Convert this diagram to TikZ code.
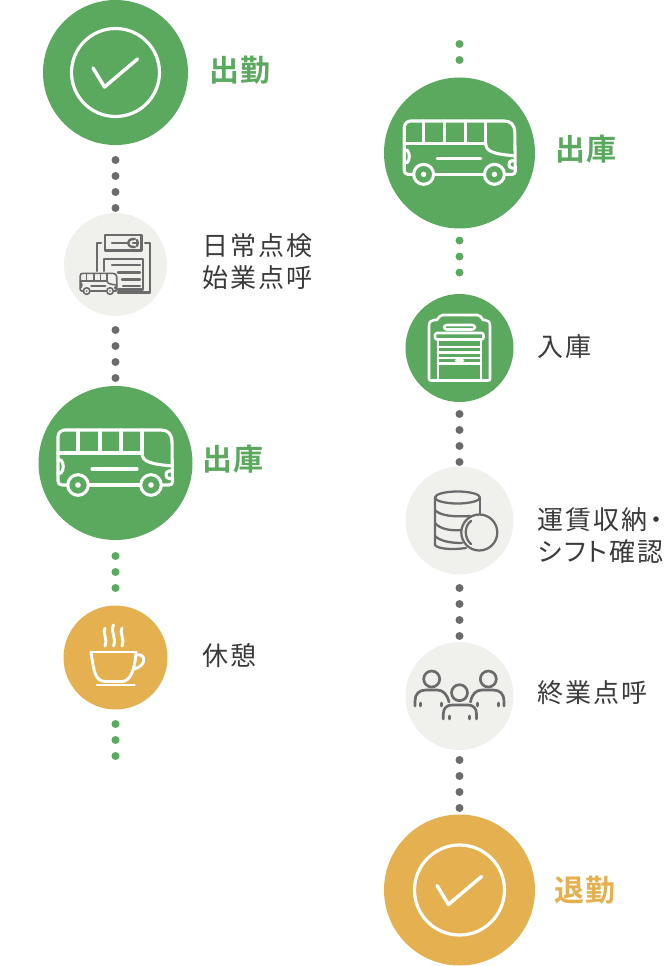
\documentclass[tikz,border=0pt]{standalone}
\usepackage{fontspec}
\newfontfamily\jpreg[LetterSpace=8,RawFeature={+palt}]{Noto Sans CJK JP}
\newfontfamily\jpbold[LetterSpace=4,RawFeature={+palt}]{Noto Sans CJK JP Bold}
\definecolor{gr}{HTML}{5BA85F}
\definecolor{og}{HTML}{E5B04F}
\definecolor{pale}{HTML}{F0F1EC}
\definecolor{dk}{HTML}{6B6B6B}
\definecolor{txt}{HTML}{3A3A3A}
\tikzset{
  disc/.style={circle,inner sep=0pt,minimum size=#1*0.75pt},
  iconline/.style={line cap=round,line join=round},
  plainlabel/.style={anchor=west,inner sep=0pt,text=txt,align=left,font=\jpreg\fontsize{19.5}{24}\selectfont},
  boldlabel/.style={anchor=west,inner sep=0pt,font=\jpbold\fontsize{22.5}{24}\selectfont},
  dotsline/.style={line width=6pt,line cap=round,dash pattern=on 0pt off 12pt},
}
\newcommand{\busicon}[5]{%
\begin{scope}[shift={(#1,#2)},scale=#3,#4,line width=#5,iconline]
  \draw (-47,22) -- (-53,22) .. controls (-56,22) and (-57,20) .. (-57,18) -- (-57,-26)
     .. controls (-57,-31) and (-53,-33) .. (-50,-33) -- (46,-33)
     .. controls (53,-33) and (56.5,-29) .. (57,-22) -- (57.5,19)
     .. controls (57.5,21) and (56,22) .. (54,22) -- (47,22);
  \draw (-26,22) -- (25,22);
  \draw (-57,-10) -- (27,-10);
  \draw (-37,-33) -- (-37,-10) (-15,-33) -- (-15,-10) (6,-33) -- (6,-10) (27,-33) -- (27,-10);
  \draw (27,-10) .. controls (27,-1) and (36,1) .. (57,3);
  \draw (-23,6) -- (22,6);
  \draw (-57,-3) -- (-54,-3) .. controls (-51,0) and (-51,7) .. (-54,10) -- (-57,10);
  \draw (57,8) -- (54,8) .. controls (50,8) and (50,15.5) .. (54,15.5) -- (57,15.5);
  \draw (-37,22) circle (10.3) (36,22) circle (10.3);
  \fill (-37,22) circle (2.8) (36,22) circle (2.8);
\end{scope}}
\newcommand{\checkicon}[3]{%
  \draw[white,line width=2.4pt] (#1,#2) circle (#3);
  \draw[white,line width=2.6pt,iconline] (#1-22.5,#2-4.5) -- (#1-11,#2+14.5) -- (#1+22,#2-13.5);}
\begin{document}
\begin{tikzpicture}[x=0.75pt,y=-0.75pt]
\useasboundingbox (0,0) rectangle (670,966);
% circles
\node[disc=145,fill=gr] (c1) at (115.5,72.5) {};
\node[disc=103,fill=pale] (c2) at (115.5,264.5) {};
\node[disc=154,fill=gr] (c3) at (115.5,463) {};
\node[disc=104,fill=og] (c4) at (115.5,657.5) {};
\node[disc=151,fill=gr] (c5) at (459.5,153) {};
\node[disc=108,fill=gr] (c6) at (459.5,348) {};
\node[disc=108,fill=pale] (c7) at (459.5,520.5) {};
\node[disc=108,fill=pale] (c8) at (459.5,696) {};
\node[disc=151,fill=og] (c9) at (459.5,890) {};
% dotted connectors
\foreach \n/\x/\a/\b/\c in {
  a/115.5/160/209/dk, b/115.5/330/379/dk, e/115.5/556/589/gr, f/115.5/724/757/gr,
  g/459.5/44/61/gr, h/459.5/240.5/273/gr, i/459.5/414/463/dk, j/459.5/588/637/dk, k/459.5/760/809/dk}{
  \coordinate (\n s) at (\x,\a);
  \coordinate (\n e) at (\x,\b);
  \draw[dotsline,draw=\c] (\n s) -- (\n e);
}
% check icons
\checkicon{115.5}{72.5}{44}
\checkicon{459.5}{890}{45}
% buses
\busicon{115}{463}{1}{white}{2.3pt}
\busicon{459.5}{153}{0.97}{white}{2.3pt}
% inspection icon
\begin{scope}[dk,line width=1.8pt,iconline]
  \draw (105,235) rectangle (141.5,250.5);
  \draw (101,243) -- (97,243) -- (97,271);
  \draw (145,243) -- (150,243) -- (150,292.5) -- (118,292.5);
  \draw (104,271) -- (104,259) -- (143,259) -- (143,289.5) -- (118,289.5);
  \draw (112,265) -- (140,265) (118,272.5) -- (140,272.5) (122,279.5) -- (140,279.5) (123,286) -- (140,286);
  \draw (112,243) -- (128,243);
  \draw (135,239) .. controls (130,238.5) and (128,241) .. (128,243) .. controls (128,245) and (130,247.5) .. (135,247);
  \draw (133,243) -- (137,243);
  \draw (137,240) .. controls (138,242) and (138,244) .. (137,246);
\end{scope}
\begin{scope}[shift={(98.5,284)},scale=0.32]
  \fill[pale] (-58,-33) rectangle (58,23);
\end{scope}
\busicon{98.5}{284}{0.32}{dk}{1.2pt}
% cup
\begin{scope}[white,line width=2.2pt,iconline]
  \draw (91,652) -- (136,652);
  \draw (91,652) .. controls (94,672) and (95,681.5) .. (106,681.5) -- (122,681.5) .. controls (130,681.5) and (135,670) .. (136,652);
  \draw (137,655) .. controls (146,653) and (147,666) .. (134,669);
  \draw (97,685) -- (134.5,685);
  \draw (105,628) .. controls (102,633) and (108,638) .. (105,646);
  \draw (113.5,625) .. controls (110,632) and (117,638) .. (113.5,646);
  \draw (122,628) .. controls (119,633) and (125,638) .. (122,646);
\end{scope}
% garage
\begin{scope}[white,line width=1.9pt,iconline]
  \draw (429,326) -- (429,379) .. controls (429,380) and (430,380.5) .. (431,380.5) -- (488,380.5) .. controls (489.5,380.5) and (490,380) .. (490,379) -- (490,326) .. controls (490,322) and (488,320) .. (485,320) -- (483,320) .. controls (481,317) and (480,315) .. (477,315) -- (443,315) .. controls (440,315) and (439,317) .. (437,320) -- (434,320) .. controls (431,320) and (429,322) .. (429,326);
  \draw[rounded corners=2pt] (444,325) rectangle (475,329.5);
  \draw[rounded corners=1.5pt] (435,333) rectangle (483.5,339.5);
  \draw (438,339.5) -- (438,380) (481,339.5) -- (481,380);
  \draw (438,347) -- (481,347) (438,352.5) -- (481,352.5) (438,358) -- (481,358) (438,363.5) -- (481,363.5);
  \draw (456,360.7) -- (463,360.7);
\end{scope}
% coins
\begin{scope}[dk,line width=1.7pt,iconline]
  \draw (457.5,497.5) ellipse (22.5 and 6);
  \draw (435,497.5) -- (435,545) .. controls (438,549) and (452,550) .. (466,548);
  \draw (480,497.5) -- (480,514);
  \draw (435,510) .. controls (440,516) and (455,517) .. (470,516);
  \draw (435,523) .. controls (440,529) and (450,531) .. (462,530);
  \draw (435,536) .. controls (440,541) and (450,543) .. (462,543);
  \draw[fill=pale] (479.3,532.5) circle (18);
  \draw (471,521) .. controls (464,526) and (464,538) .. (471,544);
\end{scope}
% people
\begin{scope}[dk,line width=2pt,iconline]
  \draw (431.7,679) circle (8) (488.3,679) circle (8) (459.5,692.7) circle (8);
  \draw (415,706) -- (415,701) .. controls (415,694) and (419,690) .. (426,690) -- (437,690) .. controls (443,690) and (447,694) .. (449,702);
  \draw (504,706) -- (504,701) .. controls (504,694) and (500,690) .. (493,690) -- (482,690) .. controls (476,690) and (472,694) .. (470.5,702);
  \draw (443.3,719) -- (443.3,714) .. controls (443.3,708) and (447,705) .. (452,705) -- (468,705) .. controls (473,705) and (476.5,708) .. (476.5,714) -- (476.5,719);
  \draw (420.7,703) -- (420.7,706) (441.7,703) -- (441.7,706) (477.7,703) -- (477.7,706) (498.3,703) -- (498.3,706) (449.3,716) -- (449.3,719) (469.3,716) -- (469.3,719);
\end{scope}
% labels
\node[boldlabel,text=gr] (t1) at (209,70.5) {出勤};
\node[plainlabel] (t2) at (202.5,262) {日常点検\\始業点呼};
\node[boldlabel,text=gr] (t3) at (202.5,459.5) {出庫};
\node[plainlabel] (t4) at (202.5,655.5) {休憩};
\node[boldlabel,text=gr] (t5) at (555,149.5) {出庫};
\node[plainlabel] (t6) at (537.5,346.5) {入庫};
\node[plainlabel] (t7) at (537.5,536) {運賃収納・\\シフト確認};
\node[plainlabel] (t8) at (537.5,692.5) {終業点呼};
\node[boldlabel,text=og] (t9) at (554,890.5) {退勤};
\end{tikzpicture}
\end{document}
